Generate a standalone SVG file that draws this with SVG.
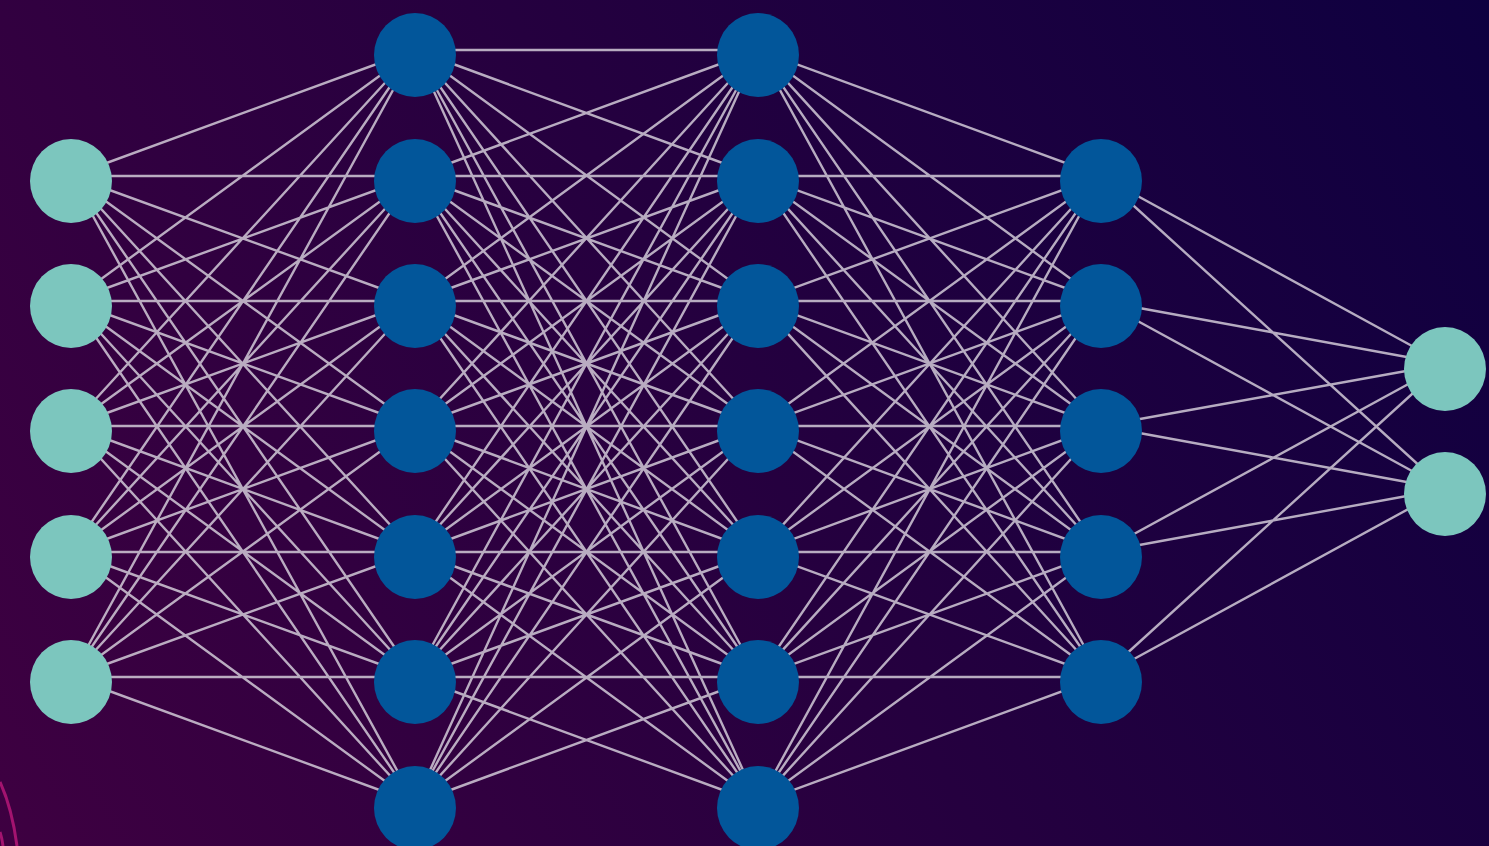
<svg xmlns="http://www.w3.org/2000/svg" width="1489" height="846" viewBox="0 0 1489 846">
<defs>
<linearGradient id="bg" x1="0" y1="846" x2="1489" y2="0" gradientUnits="userSpaceOnUse">
<stop offset="0" stop-color="#3e0041"/>
<stop offset="0.5" stop-color="#25003f"/>
<stop offset="1" stop-color="#0e0040"/>
</linearGradient>
<style>
.e{stroke:#d2cad8;stroke-width:2.4;stroke-opacity:0.85;fill:none}
.in{fill:#7cc6be}
.hid{fill:#02569a}
.deco{stroke:#a3136f;stroke-width:3;fill:none}
</style>
</defs>
<rect width="1489" height="846" fill="url(#bg)"/>
<path class="deco" d="M0 782 Q12 808 17 846"/>
<path class="deco" d="M0 832 Q2 838 3 846"/>
<g id="connectors" transform="translate(0,-5)">
<path class="e" d="M71 181L415 55M71 181L415 181M71 181L415 306M71 181L415 431M71 181L415 557M71 181L415 682M71 181L415 808
M71 306L415 55M71 306L415 181M71 306L415 306M71 306L415 431M71 306L415 557M71 306L415 682M71 306L415 808
M71 431L415 55M71 431L415 181M71 431L415 306M71 431L415 431M71 431L415 557M71 431L415 682M71 431L415 808
M71 557L415 55M71 557L415 181M71 557L415 306M71 557L415 431M71 557L415 557M71 557L415 682M71 557L415 808
M71 682L415 55M71 682L415 181M71 682L415 306M71 682L415 431M71 682L415 557M71 682L415 682M71 682L415 808"/>
<path class="e" d="M415 55L758 55M415 55L758 181M415 55L758 306M415 55L758 431M415 55L758 557M415 55L758 682M415 55L758 808
M415 181L758 55M415 181L758 181M415 181L758 306M415 181L758 431M415 181L758 557M415 181L758 682M415 181L758 808
M415 306L758 55M415 306L758 181M415 306L758 306M415 306L758 431M415 306L758 557M415 306L758 682M415 306L758 808
M415 431L758 55M415 431L758 181M415 431L758 306M415 431L758 431M415 431L758 557M415 431L758 682M415 431L758 808
M415 557L758 55M415 557L758 181M415 557L758 306M415 557L758 431M415 557L758 557M415 557L758 682M415 557L758 808
M415 682L758 55M415 682L758 181M415 682L758 306M415 682L758 431M415 682L758 557M415 682L758 682M415 682L758 808
M415 808L758 55M415 808L758 181M415 808L758 306M415 808L758 431M415 808L758 557M415 808L758 682"/>
<path class="e" d="M758 55L1101 181M758 55L1101 306M758 55L1101 431M758 55L1101 557M758 55L1101 682
M758 181L1101 181M758 181L1101 306M758 181L1101 431M758 181L1101 557M758 181L1101 682
M758 306L1101 181M758 306L1101 306M758 306L1101 431M758 306L1101 557M758 306L1101 682
M758 431L1101 181M758 431L1101 306M758 431L1101 431M758 431L1101 557M758 431L1101 682
M758 557L1101 181M758 557L1101 306M758 557L1101 431M758 557L1101 557M758 557L1101 682
M758 682L1101 181M758 682L1101 306M758 682L1101 431M758 682L1101 557M758 682L1101 682
M758 808L1101 181M758 808L1101 306M758 808L1101 431M758 808L1101 557M758 808L1101 682"/>
<path class="e" d="M1101 181L1445 369M1101 181L1445 494M1101 306L1445 369M1101 306L1445 494M1101 431L1445 369M1101 431L1445 494M1101 557L1445 369M1101 557L1445 494M1101 682L1445 369M1101 682L1445 494"/>
</g>
<g id="input-layer">
<g id="n1-1"><ellipse class="in" cx="71" cy="181" rx="41" ry="42"/></g>
<g id="n1-2"><ellipse class="in" cx="71" cy="306" rx="41" ry="42"/></g>
<g id="n1-3"><ellipse class="in" cx="71" cy="431" rx="41" ry="42"/></g>
<g id="n1-4"><ellipse class="in" cx="71" cy="557" rx="41" ry="42"/></g>
<g id="n1-5"><ellipse class="in" cx="71" cy="682" rx="41" ry="42"/></g>
</g>
<g id="hidden-layer-1">
<g id="n2-1"><ellipse class="hid" cx="415" cy="55" rx="41" ry="42"/></g>
<g id="n2-2"><ellipse class="hid" cx="415" cy="181" rx="41" ry="42"/></g>
<g id="n2-3"><ellipse class="hid" cx="415" cy="306" rx="41" ry="42"/></g>
<g id="n2-4"><ellipse class="hid" cx="415" cy="431" rx="41" ry="42"/></g>
<g id="n2-5"><ellipse class="hid" cx="415" cy="557" rx="41" ry="42"/></g>
<g id="n2-6"><ellipse class="hid" cx="415" cy="682" rx="41" ry="42"/></g>
<g id="n2-7"><ellipse class="hid" cx="415" cy="808" rx="41" ry="42"/></g>
</g>
<g id="hidden-layer-2">
<g id="n3-1"><ellipse class="hid" cx="758" cy="55" rx="41" ry="42"/></g>
<g id="n3-2"><ellipse class="hid" cx="758" cy="181" rx="41" ry="42"/></g>
<g id="n3-3"><ellipse class="hid" cx="758" cy="306" rx="41" ry="42"/></g>
<g id="n3-4"><ellipse class="hid" cx="758" cy="431" rx="41" ry="42"/></g>
<g id="n3-5"><ellipse class="hid" cx="758" cy="557" rx="41" ry="42"/></g>
<g id="n3-6"><ellipse class="hid" cx="758" cy="682" rx="41" ry="42"/></g>
<g id="n3-7"><ellipse class="hid" cx="758" cy="808" rx="41" ry="42"/></g>
</g>
<g id="hidden-layer-3">
<g id="n4-1"><ellipse class="hid" cx="1101" cy="181" rx="41" ry="42"/></g>
<g id="n4-2"><ellipse class="hid" cx="1101" cy="306" rx="41" ry="42"/></g>
<g id="n4-3"><ellipse class="hid" cx="1101" cy="431" rx="41" ry="42"/></g>
<g id="n4-4"><ellipse class="hid" cx="1101" cy="557" rx="41" ry="42"/></g>
<g id="n4-5"><ellipse class="hid" cx="1101" cy="682" rx="41" ry="42"/></g>
</g>
<g id="output-layer">
<g id="n5-1"><ellipse class="in" cx="1445" cy="369" rx="41" ry="42"/></g>
<g id="n5-2"><ellipse class="in" cx="1445" cy="494" rx="41" ry="42"/></g>
</g>
</svg>
